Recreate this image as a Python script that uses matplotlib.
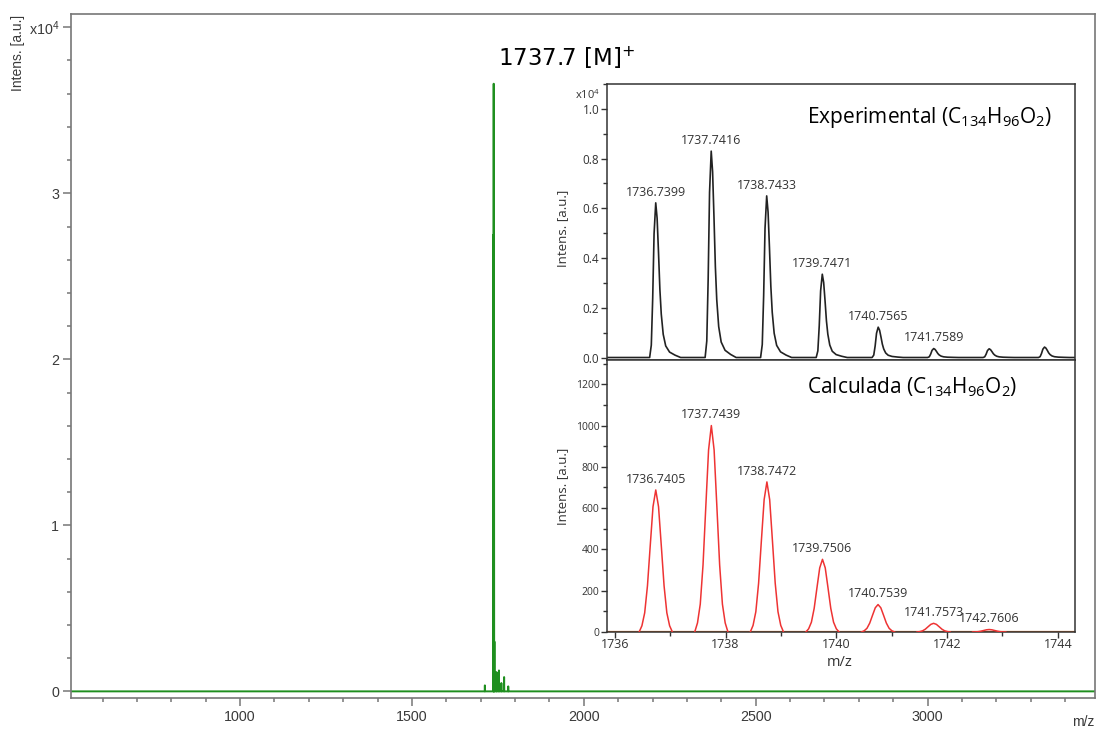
import matplotlib
matplotlib.use("Agg")
import matplotlib.pyplot as plt
from matplotlib.ticker import MultipleLocator, FixedLocator, NullLocator

plt.rcParams['mathtext.default'] = 'regular'

# ---------------- data ----------------
# main spectrum (intensity in units of 1e4 a.u.)
main_range = [508, 3487]
main_peak_mz = [1712, 1736.7, 1737.7, 1738.7, 1739.7, 1746, 1753, 1760, 1768, 1780]
main_peak_int = [0.036, 2.75, 3.66, 1.70, 0.30, 0.116, 0.126, 0.05, 0.086, 0.03]

# experimental isotope pattern (units of 1e4 a.u.)
exp_mz = [1736.7399, 1737.7416, 1738.7433, 1739.7471, 1740.7565, 1741.7589, 1742.76, 1743.76]
exp_int = [0.622, 0.830, 0.650, 0.335, 0.122, 0.036, 0.035, 0.042]
exp_labels = ["1736.7399", "1737.7416", "1738.7433", "1739.7471", "1740.7565", "1741.7589", "", ""]
# experimental peak profile (offset in m/z, relative height)
exp_shape_dx = [-0.11, -0.08, -0.055, -0.03, 0.0, 0.025, 0.05, 0.075, 0.10, 0.135, 0.18, 0.25, 0.35, 0.45]
exp_shape_y = [0.0, 0.08, 0.38, 0.80, 1.0, 0.90, 0.68, 0.44, 0.28, 0.15, 0.075, 0.035, 0.015, 0.0]

# calculated isotope pattern
calc_mz = [1736.7405, 1737.7439, 1738.7472, 1739.7506, 1740.7539, 1741.7573, 1742.7606]
calc_int = [688, 1000, 727, 352, 133, 42, 12]
calc_labels = ["1736.7405", "1737.7439", "1738.7472", "1739.7506", "1740.7539", "1741.7573", "1742.7606"]
calc_shape_dx = [-0.30, -0.25, -0.20, -0.15, -0.10, -0.05, 0.0, 0.05, 0.10, 0.15, 0.20, 0.25, 0.30]
calc_shape_y = [0.0, 0.044, 0.135, 0.325, 0.607, 0.882, 1.0, 0.882, 0.607, 0.325, 0.135, 0.044, 0.0]

inset_xlim = [1735.86, 1744.31]

# ---------------- figure ----------------
fig = plt.figure(figsize=(10.98, 7.31), dpi=100)

main_font = 'Liberation Sans'
ins_font = 'Open Sans'

ax = fig.add_axes([71/1098, 1-698/731, (1095-71)/1098, (698-14)/731])
xs = [main_range[0]]
ys = [0.0]
for m, h in sorted(zip(main_peak_mz, main_peak_int)):
    xs += [m - 0.4, m, m + 0.4]
    ys += [0.0, h, 0.0]
xs.append(main_range[1]); ys.append(0.0)
ax.plot(xs, ys, color='#1f8f1f', lw=1.4)
ax.set_xlim(main_range)
ax.set_ylim(-0.04, 4.08)
ax.xaxis.set_major_locator(FixedLocator([1000, 1500, 2000, 2500, 3000]))
ax.xaxis.set_minor_locator(MultipleLocator(100))
ax.yaxis.set_major_locator(FixedLocator([0, 1, 2, 3, 4]))
ax.yaxis.set_minor_locator(MultipleLocator(0.2))
ax.set_yticklabels(['0', '1', '2', '3', 'x10$^{4}$'])
ax.tick_params(which='both', direction='out', colors='#777777', labelcolor='#3a3a3a',
               labelsize=10.3, width=1.1)
ax.tick_params(which='major', length=5.5, pad=3)
ax.tick_params(which='minor', length=3.2)
for lab in ax.get_xticklabels() + ax.get_yticklabels():
    lab.set_fontfamily(main_font)
for s in ax.spines.values():
    s.set_color('#777777'); s.set_linewidth(1.2)
fig.text(18/1098, 1-53/731, 'Intens. [a.u.]', rotation=90, ha='center', va='center',
         fontsize=10, color='#3a3a3a', family=main_font)
fig.text(1083/1098, 1-722/731, 'm/z', ha='center', va='center', fontsize=10,
         color='#3a3a3a', family=main_font)
fig.text(567/1098, 1-58/731, '1737.7 [M]$^{+}$', ha='center', va='center',
         fontsize=16.5, color='black', family='DejaVu Sans')

# ---------------- inset axes ----------------
top_y = 1-84/731
mid_y = 1-359.5/731
bot_y = 1-632/731
left = 607/1098
width = (1075-607)/1098
ax1 = fig.add_axes([left, mid_y, width, top_y-mid_y])
ax2 = fig.add_axes([left, bot_y, width, mid_y-bot_y])

# experimental
ex = [inset_xlim[0]]
ey = [0.0]
for m, h in zip(exp_mz, exp_int):
    for dx, sy in zip(exp_shape_dx, exp_shape_y):
        ex.append(m + dx); ey.append(h * sy)
ex.append(inset_xlim[1]); ey.append(0.0)
ax1.plot(ex, ey, color='#222222', lw=1.2)
ax1.set_xlim(inset_xlim)
ax1.set_ylim(-0.008, 1.10)
ax1.xaxis.set_major_locator(NullLocator())
ax1.yaxis.set_major_locator(MultipleLocator(0.2))
ax1.yaxis.set_minor_locator(MultipleLocator(0.1))
ax1.yaxis.set_major_formatter(plt.FuncFormatter(lambda v, p: f'{v:.1f}'))
for m, h, lab in zip(exp_mz, exp_int, exp_labels):
    if lab:
        ax1.annotate(lab, (m, h), xytext=(0, 3), textcoords='offset points',
                     ha='center', va='bottom', fontsize=9, family=ins_font, color='#333333')
ax1.text(-0.015, 1.056, 'x10$^{4}$', transform=ax1.get_yaxis_transform(), ha='right',
         va='center', fontsize=8, family=ins_font, color='#333333')
fig.text(807/1098, 1-117/731, 'Experimental (C$_{134}$H$_{96}$O$_{2}$)',
         ha='left', va='center', fontsize=15, family=ins_font, color='black')
fig.text(563/1098, 1-228/731, 'Intens. [a.u.]', rotation=90, ha='center', va='center',
         fontsize=9.5, family=ins_font, color='#333333')

# calculated
ax2.axhline(0, color='#d2691e', lw=1.6, zorder=2)
for m, h in zip(calc_mz, calc_int):
    cx = [m + dx for dx in calc_shape_dx]
    cy = [h * sy for sy in calc_shape_y]
    ax2.plot(cx, cy, color='#ee3333', lw=1.1, zorder=3)
ax2.set_xlim(inset_xlim)
ax2.set_ylim(0, 1320)
ax2.xaxis.set_major_locator(MultipleLocator(2))
ax2.xaxis.set_minor_locator(MultipleLocator(1))
ax2.yaxis.set_major_locator(MultipleLocator(200))
ax2.yaxis.set_minor_locator(MultipleLocator(100))
for m, h, lab in zip(calc_mz, calc_int, calc_labels):
    ax2.annotate(lab, (m, h), xytext=(0, 3), textcoords='offset points',
                 ha='center', va='bottom', fontsize=9, family=ins_font, color='#333333')
fig.text(807/1098, 1-387/731, 'Calculada (C$_{134}$H$_{96}$O$_{2}$)',
         ha='left', va='center', fontsize=15, family=ins_font, color='black')
fig.text(563/1098, 1-486/731, 'Intens. [a.u.]', rotation=90, ha='center', va='center',
         fontsize=9.5, family=ins_font, color='#333333')
fig.text(840/1098, 1-662/731, 'm/z', ha='center', va='center',
         fontsize=10.5, family=ins_font, color='#333333')

for a in (ax1, ax2):
    a.set_facecolor('white')
    a.tick_params(which='both', direction='out', colors='#333333', width=1.0)
    a.tick_params(which='major', length=4, pad=1.5)
    a.tick_params(which='minor', length=2.8)
    for s in a.spines.values():
        s.set_color('#333333'); s.set_linewidth(1.1)
ax1.tick_params(axis='y', labelsize=8.5)
ax2.tick_params(axis='y', labelsize=7.5)
ax2.tick_params(axis='x', labelsize=9, pad=0.5)
for a in (ax1, ax2):
    for lab in a.get_xticklabels() + a.get_yticklabels():
        lab.set_fontfamily(ins_font)

fig.savefig('out.png', dpi=100)
